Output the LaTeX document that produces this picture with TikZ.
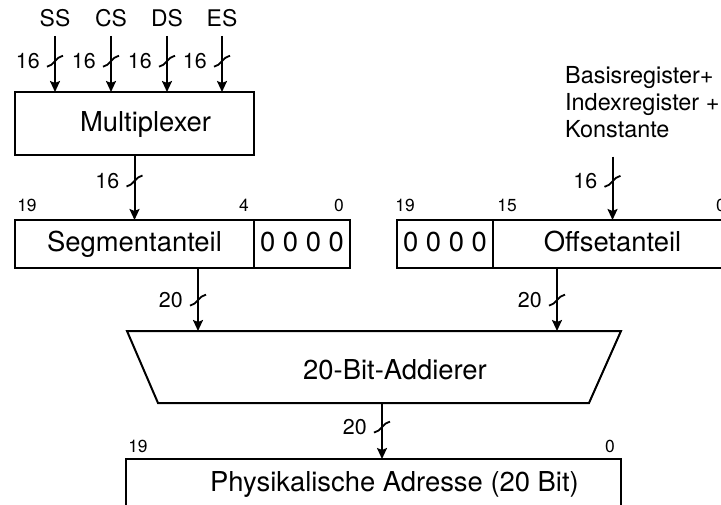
\documentclass[tikz,border=0pt]{standalone}
\usepackage{fontspec}
\setmainfont{TeX Gyre Heros}
\usetikzlibrary{arrows.meta, calc, positioning}

% bus width mark: slash across the line and its width label
\newcommand{\busmark}[3]{%
  \draw[line width=1.8bp] ($(#2)+(-8,5.5)$) .. controls ($(#2)+(-1,4.5)$) and ($(#2)+(1,-4.5)$) .. ($(#2)+(8,-5.5)$);
  \node[buslabel] (#1) at ($(#2)+(-15,0)$) {#3};
}

\begin{document}
\begin{tikzpicture}[x=1bp, y=-1bp,
  regbox/.style={draw, line width=2bp, inner sep=0pt, outer sep=0pt, minimum height=48bp,
    text height=20bp, text depth=4bp, font=\fontsize{27.5}{33}\selectfont},
  boxtext/.style={inner sep=0pt, text height=20bp, text depth=4bp, font=\fontsize{27.5}{33}\selectfont},
  bus/.style={line width=2bp, -{Stealth[length=11bp, width=10bp, inset=2bp]}},
  buslabel/.style={anchor=east, inner sep=0pt, font=\fontsize{21.5}{26}\selectfont},
  bitlabel/.style={anchor=base, inner sep=0pt, font=\fontsize{17.5}{21}\selectfont},
  srclabel/.style={anchor=south, inner sep=0pt, text depth=9bp, font=\fontsize{23}{28}\selectfont}]
\useasboundingbox (0,0) rectangle (721,505);
% multiplexer with the four segment registers
\node[regbox, minimum width=239bp, minimum height=63bp,
  label={[boxtext, xshift=11bp]center:Multiplexer}] (mux) at (134.5,123.5) {};
\foreach \n/\x in {SS/55, CS/111, DS/167, ES/222} {
  \node[srclabel] (\n) at (\x,36) {\n};
  \draw[bus] (\n.south) -- coordinate[pos=0.45] (m\n) (\n.south |- mux.north);
  \busmark{w\n}{m\n}{16}
}
% segment part
\node[regbox, minimum width=239bp] (seghi) at (134.5,244) {Segmentanteil};
\node[regbox, minimum width=96bp, right=0pt of seghi] (seglo) {0 0 0 0};
\node[bitlabel] (b19s) at ([xshift=12bp, yshift=8bp]seghi.north west) {19};
\node[bitlabel] (b4s) at ([xshift=-10bp, yshift=8bp]seglo.north west) {4};
\node[bitlabel] (b0s) at ([xshift=-11bp, yshift=8bp]seglo.north east) {0};
\draw[bus] (mux.south) -- coordinate[pos=0.4] (mmux) (seghi.north);
\busmark{wmux}{mmux}{16}
% offset part
\node[regbox, minimum width=96bp] (offhi) at (445,244) {0 0 0 0};
\node[regbox, minimum width=239bp, right=0pt of offhi] (offlo) {Offsetanteil};
\node[bitlabel] (b19o) at ([xshift=8bp, yshift=8bp]offhi.north west) {19};
\node[bitlabel] (b15o) at ([xshift=14bp, yshift=8bp]offlo.north west) {15};
\node[bitlabel] (b0o) at ([xshift=-11bp, yshift=8bp]offlo.north east) {0};
\node[anchor=north west, align=left, inner sep=0pt, font=\fontsize{23.5}{27}\selectfont] (src) at (565,66)
  {Basisregister+\\Indexregister +\\Konstante};
\path ($(src.south -| offlo.north)+(0,19)$) coordinate (offin);
\draw[bus] (offin) -- coordinate[pos=0.39] (moffin) (offlo.north);
\busmark{woffin}{moffin}{16}
% adder
\coordinate (addtl) at (127,331);
\coordinate (addtr) at (621,331);
\coordinate (addbr) at (589,403);
\coordinate (addbl) at (158,403);
\draw[line width=2bp] (addtl) -- (addtr) -- (addbr) -- (addbl) -- cycle;
\node[boxtext] (add) at (395,371) {20-Bit-Addierer};
\path ([xshift=63.5bp]seghi.south) coordinate (segout);
\path ([xshift=-55.5bp]offlo.south) coordinate (offout);
\draw[bus] (segout) -- coordinate[pos=0.51] (mseg) (segout |- addtl);
\draw[bus] (offout) -- coordinate[pos=0.51] (moff) (offout |- addtl);
\busmark{wseg}{mseg}{20}
\busmark{woff}{moff}{20}
% physical address
\node[regbox, minimum width=495bp,
  label={[boxtext, xshift=21bp]center:Physikalische Adresse (20 Bit)}] (phys) at (373.5,483) {};
\node[bitlabel] (b19p) at ([xshift=12bp, yshift=7bp]phys.north west) {19};
\node[bitlabel] (b0p) at ([xshift=-11bp, yshift=7bp]phys.north east) {0};
\coordinate (addout) at (382,403);
\draw[bus] (addout) -- coordinate[pos=0.43] (madd) (addout |- phys.north);
\busmark{wadd}{madd}{20}
\end{tikzpicture}
\end{document}
